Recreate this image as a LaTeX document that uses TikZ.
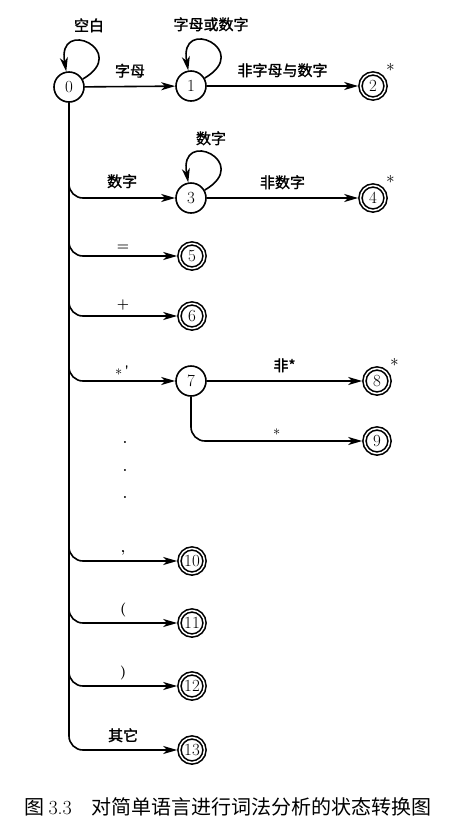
\documentclass[tikz,border=0pt]{standalone}
\usepackage{fontspec}
\usepackage{tikz}
\usetikzlibrary{positioning,arrows.meta}
\newfontfamily\cjk[FakeBold=1.4]{Noto Sans CJK SC}
\newfontfamily\cjkcap{Noto Sans CJK SC}

\begin{document}
\begin{tikzpicture}[x=1pt, y=-1pt,
  st/.style={circle, draw, line width=1.6pt, minimum size=30pt, inner sep=0pt, font=\fontsize{17}{17}\selectfont},
  acc/.style={st, minimum size=25pt, double, double distance=1.5pt, outer sep=2.3pt},
  arr/.style={-{Stealth[length=14pt, width=8pt, inset=4pt]}, line width=1.6pt},
  lbl/.style={font=\cjk\fontsize{15}{15}\selectfont, inner sep=1pt},
  sym/.style={font=\bfseries\fontsize{14}{14}\selectfont, inner sep=1pt},
  mk/.style={font=\bfseries\fontsize{17}{17}\selectfont, inner sep=0pt},
  captext/.style={font=\cjkcap\fontsize{20}{20}\selectfont}
]
\useasboundingbox (0,0) rectangle (463,836);

% states
\node[st]  (s0)  at (69,87)   {0};
\node[st]  (s1)  at (191,86)  {1};
\node[acc] (s2)  at (373,86)  {2};
\node[st]  (s3)  at (191,198) {3};
\node[acc] (s4)  at (373,198) {4};
\node[acc] (s5)  at (192,256) {5};
\node[acc] (s6)  at (192,316) {6};
\node[st]  (s7)  at (191,381) {7};
\node[acc] (s8)  at (377,381) {8};
\node[acc] (s9)  at (377,441) {9};
\node[acc] (s10) at (192,561) {10};
\node[acc] (s11) at (192,623) {11};
\node[acc] (s12) at (192,686) {12};
\node[acc] (s13) at (192,750) {13};

% retract marks
\node[mk] (m2) at ([shift={(7,-8)}]s2.north east) {$\ast$};
\node[mk] (m4) at ([shift={(7,-8)}]s4.north east) {$\ast$};
\node[mk] (m8) at ([shift={(7,-8)}]s8.north east) {$\ast$};

% loops
\draw[arr] (s0) to[out=30, in=100, min distance=56pt] node[lbl, above=10pt] (l00) {空白} (s0);
\draw[arr] (s1) to[out=30, in=100, min distance=56pt] node[lbl, above=10pt] (l11) {字母或数字} (s1);
\draw[arr] (s3) to[out=30, in=100, min distance=56pt] node[lbl, above=8pt] (l33) {数字} (s3);

% straight moves
\draw[arr] (s0) -- node[lbl, above=7pt] (l01) {字母} (s1);
\draw[arr] (s1) -- node[lbl, above=7pt] (l12) {非字母与数字} (s2);
\draw[arr] (s3) -- node[lbl, above=7pt] (l34) {非数字} (s4);
\draw[arr] (s7) -- node[lbl, above=7pt] (l78) {非*} (s8);

% branches off the trunk
\draw[arr, rounded corners=14pt] (s0.south) |- node[lbl, pos=0.75, above=8pt] (l03) {数字} (s3);
\draw[arr, rounded corners=14pt] (s0.south) |- node[sym, pos=0.75, above=4pt] (l05) {=} (s5);
\draw[arr, rounded corners=14pt] (s0.south) |- node[sym, pos=0.75, above=4pt] (l06) {+} (s6);
\draw[arr, rounded corners=14pt] (s0.south) |- node[sym, pos=0.75, above=4pt] (l07) {$\ast$\,\textquotesingle} (s7);
\draw[arr, rounded corners=14pt] (s7.south) |- node[sym, pos=0.75, above=4pt] (l79) {$\ast$} (s9);
\draw[arr, rounded corners=14pt] (s0.south) |- node[sym, pos=0.75, above=4pt] (l010) {,} (s10);
\draw[arr, rounded corners=14pt] (s0.south) |- node[sym, pos=0.75, above=4pt] (l011) {(} (s11);
\draw[arr, rounded corners=14pt] (s0.south) |- node[sym, pos=0.75, above=4pt] (l012) {)} (s12);
\draw[arr, rounded corners=14pt] (s0.south) |- node[lbl, pos=0.75, above=6pt] (l013) {其它} (s13);

% elided cases
\foreach \y [count=\i] in {442,470,497}
  \node[sym] (d\i) at (125,\y) {.};

\node[captext] (cap) at (228,807) {图 {\rmfamily 3.3}\quad 对简单语言进行词法分析的状态转换图};
\end{tikzpicture}
\end{document}
